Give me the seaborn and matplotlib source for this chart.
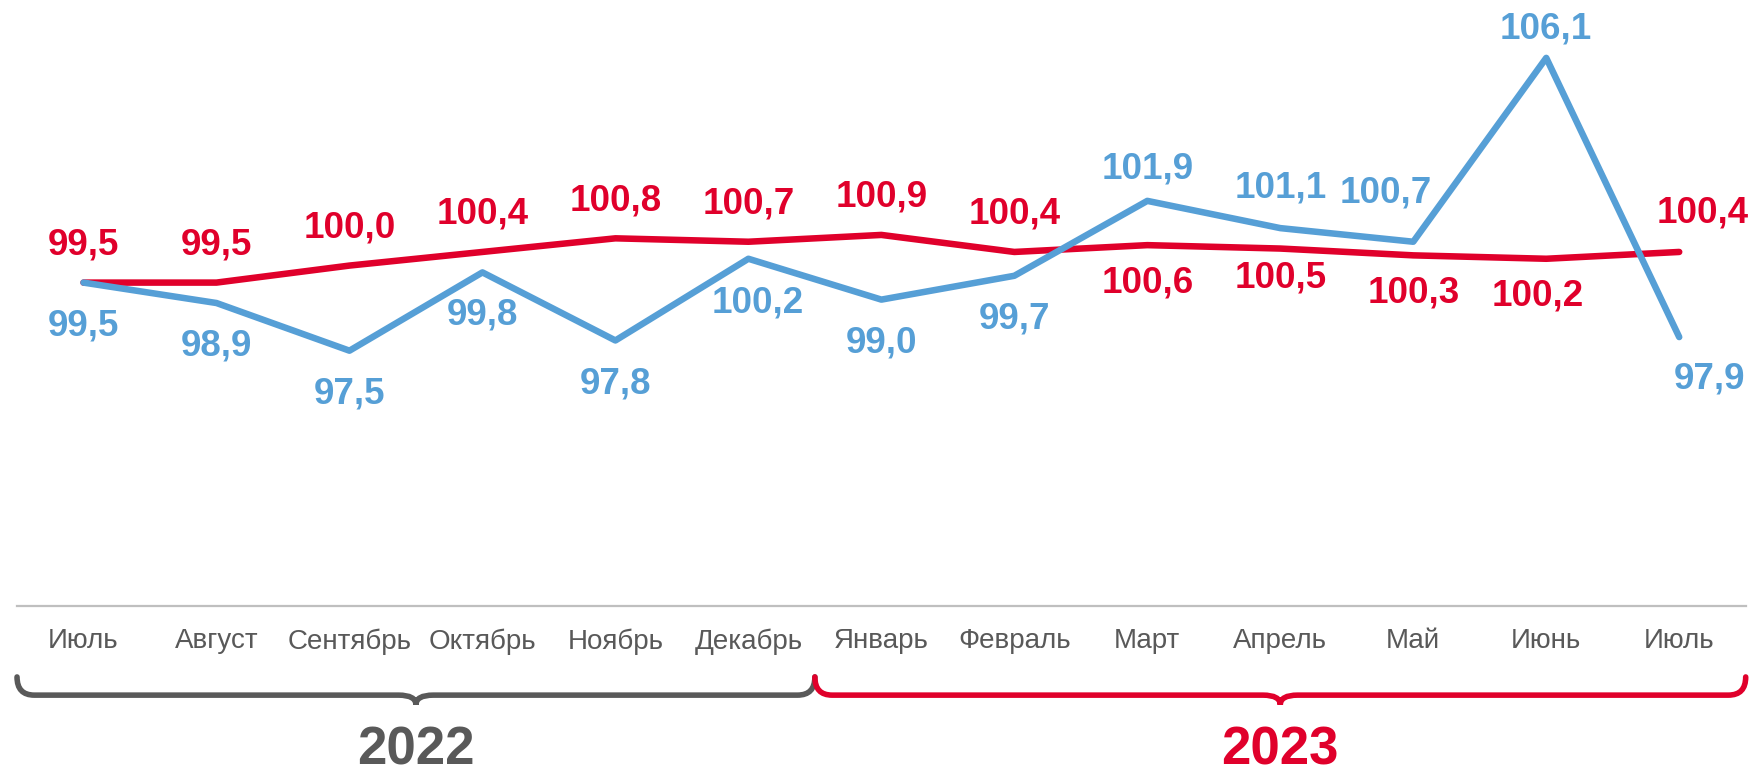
import numpy as np
import pandas as pd
import seaborn as sns
import matplotlib.pyplot as plt
from matplotlib.path import Path
from matplotlib.patches import PathPatch

# Данные
months = ['Июль', 'Август', 'Сентябрь', 'Октябрь', 'Ноябрь', 'Декабрь', 'Январь',
          'Февраль', 'Март', 'Апрель', 'Май', 'Июнь', 'Июль']
red_vals = [99.5, 99.5, 100.0, 100.4, 100.8, 100.7, 100.9, 100.4, 100.6, 100.5, 100.3, 100.2, 100.4]
blue_vals = [99.5, 98.9, 97.5, 99.8, 97.8, 100.2, 99.0, 99.7, 101.9, 101.1, 100.7, 106.1, 97.9]
years = ['2022', '2023']
year_months = [6, 7]  # число месяцев в каждом году

RED = '#E0002B'
BLUE = '#569FD6'
GRAY = '#595959'

sns.set_style('white')
plt.rcParams['font.family'] = ['Liberation Sans', 'DejaVu Sans']

idx = np.arange(len(months))
df = pd.DataFrame({'i': idx, 'red': red_vals, 'blue': blue_vals})

fig = plt.figure(figsize=(17.55, 7.74), dpi=100)
ax = fig.add_axes([0.0097, 0.217, 0.985, 0.783])

sns.lineplot(data=df, x='i', y='red', color=RED, lw=4.7, ax=ax, sort=False)
sns.lineplot(data=df, x='i', y='blue', color=BLUE, lw=4.7, ax=ax, sort=False)
for ln in ax.lines:
    ln.set_solid_capstyle('round')
    ln.set_solid_joinstyle('round')

ax.set_xlim(-0.5, 12.5)
ax.set_ylim(90, 107.8)

# подписи значений (смещения в пунктах)
red_up = [True] * 8 + [False] * 4 + [True]
blue_up = [False] * 8 + [True] * 4 + [False]
red_shift = {9: (0, -21), 11: (-6, -27), 12: (17, 28)}
blue_shift = {5: (7, -32), 8: (0, 23), 9: (0, 29), 10: (-20, 35), 11: (0, 21), 12: (22, -30)}

def fmt(v):
    return f'{v:.1f}'.replace('.', ',')

for i, v in enumerate(red_vals):
    dx, dy = red_shift.get(i, (0, 27 if red_up[i] else -27))
    ax.annotate(fmt(v), (i, v), xytext=(dx, dy), textcoords='offset points',
                ha='center', va='center', fontsize=26.5, fontweight='bold', color=RED)
for i, v in enumerate(blue_vals):
    dx, dy = blue_shift.get(i, (0, 25 if blue_up[i] else -31))
    ax.annotate(fmt(v), (i, v), xytext=(dx, dy), textcoords='offset points',
                ha='center', va='center', fontsize=26.5, fontweight='bold', color=BLUE)

# оси
ax.set_xticks(idx)
ax.set_xticklabels(months, fontsize=20, color=GRAY)
ax.tick_params(axis='x', length=0, pad=16)
ax.set_yticks([])
ax.set_xlabel('')
ax.set_ylabel('')
sns.despine(ax=ax, left=True, top=True, right=True)
ax.spines['bottom'].set_color('#BFBFBF')
ax.spines['bottom'].set_linewidth(1.6)

# фигурные скобки и годы
trans = ax.get_xaxis_transform()
start = 0
for year, n, col in zip(years, year_months, [GRAY, RED]):
    x0, x1 = start - 0.5, start + n - 1 + 0.5
    xc = (start + start + n - 1) / 2
    r = 0.13
    yt, yb, ytip = -0.117, -0.147, -0.163
    verts = [(x0, yt), (x0, yb), (x0 + r, yb), (xc - r, yb), (xc, yb), (xc, ytip),
             (xc, yb), (xc + r, yb), (x1 - r, yb), (x1, yb), (x1, yt)]
    codes = [Path.MOVETO, Path.CURVE3, Path.CURVE3, Path.LINETO, Path.CURVE3, Path.CURVE3,
             Path.CURVE3, Path.CURVE3, Path.LINETO, Path.CURVE3, Path.CURVE3]
    ax.add_patch(PathPatch(Path(verts, codes), transform=trans, fill=False,
                           edgecolor=col, lw=4, capstyle='round', clip_on=False))
    ax.text(xc, -0.262, year, transform=trans, ha='center', va='baseline',
            fontsize=38, fontweight='bold', color=col)
    start += n

fig.savefig('out.png', dpi=100)
